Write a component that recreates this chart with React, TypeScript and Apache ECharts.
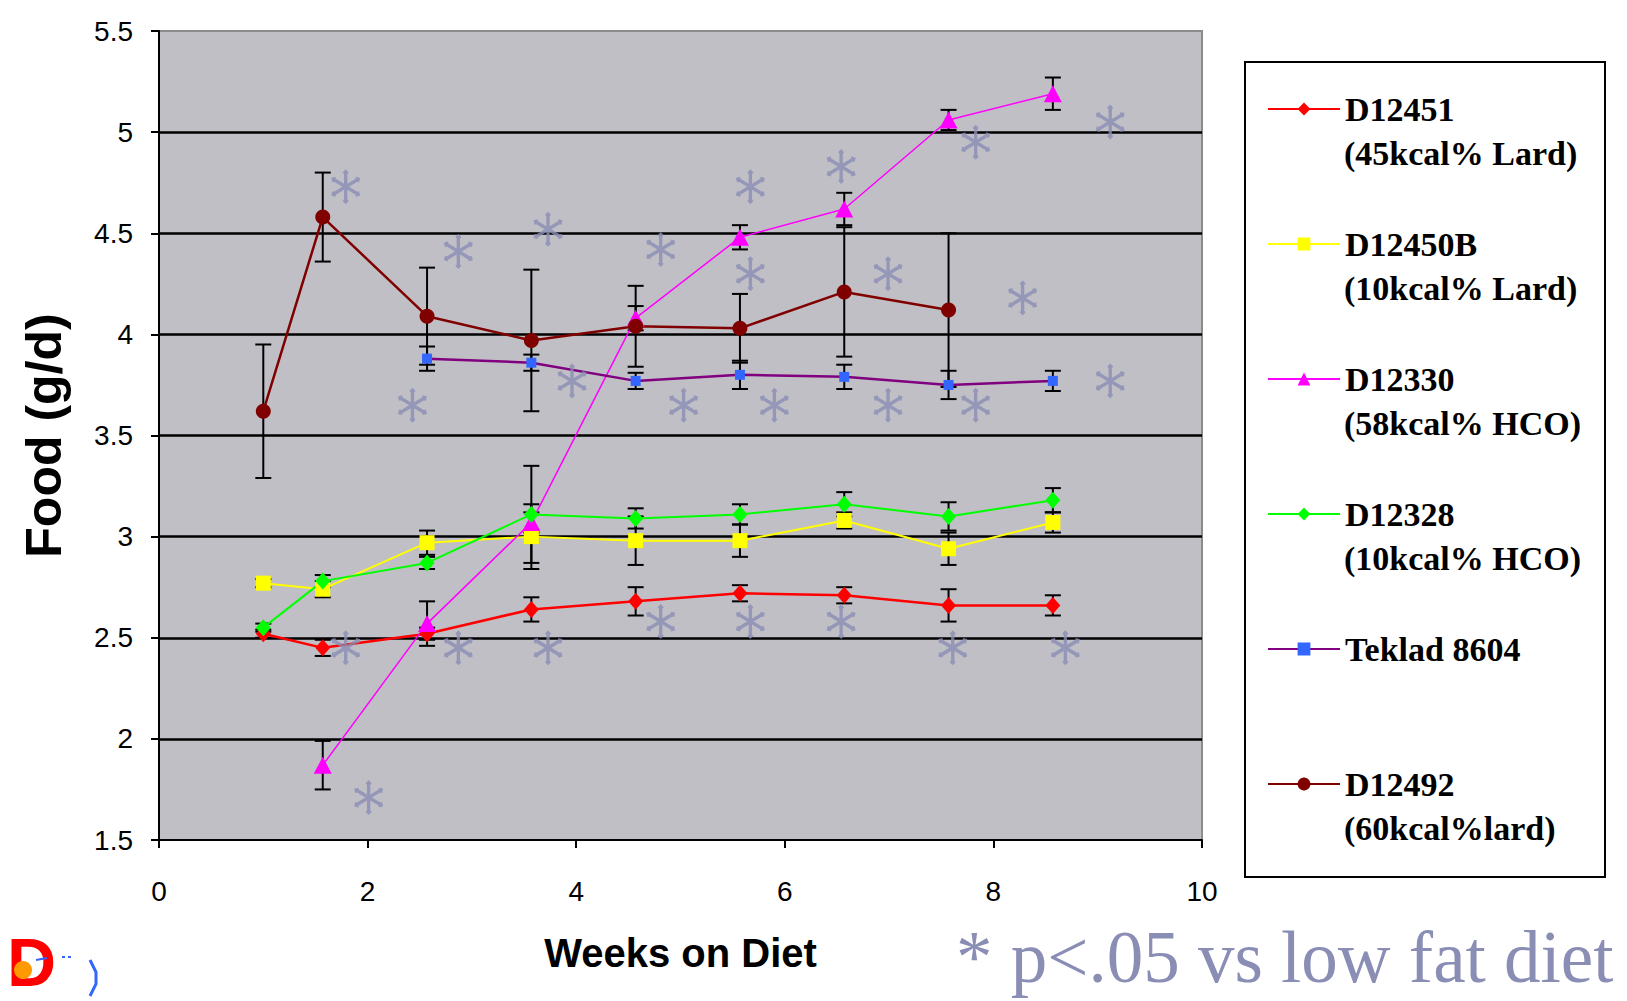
import React, { useEffect, useRef } from 'react';
import * as echarts from 'echarts';

// ---- data ----
const weeks = [1, 1.57, 2.57, 3.57, 4.57, 5.57, 6.57, 7.57, 8.57];

const d12451 = [2.52, 2.45, 2.52, 2.64, 2.68, 2.72, 2.71, 2.66, 2.66];
const d12451Err = [0.02, 0.04, 0.03, 0.06, 0.07, 0.04, 0.04, 0.08, 0.05];
const d12450B = [2.77, 2.74, 2.97, 3.0, 2.98, 2.98, 3.08, 2.94, 3.07];
const d12450BErr = [0.02, 0.04, 0.06, 0.16, 0.12, 0.08, 0.04, 0.08, 0.05];
const d12330 = [null, 1.87, 2.57, 3.07, 4.08, 4.48, 4.62, 5.06, 5.19];
const d12330Err = [null, 0.12, 0.11, 0.05, 0.06, 0.06, 0.08, 0.05, 0.08];
const d12328 = [2.55, 2.78, 2.87, 3.11, 3.09, 3.11, 3.16, 3.1, 3.18];
const d12328Err = [0.02, 0.03, 0.03, 0.24, 0.05, 0.05, 0.06, 0.07, 0.06];
const teklad = [null, null, 3.88, 3.86, 3.77, 3.8, 3.79, 3.75, 3.77];
const tekladErr = [null, null, 0.06, 0.04, 0.04, 0.07, 0.06, 0.07, 0.05];
const d12492 = [3.62, 4.58, 4.09, 3.97, 4.04, 4.03, 4.21, 4.12, null];
const d12492Err = [0.33, 0.22, 0.24, 0.35, 0.2, 0.17, 0.32, 0.38, null];

const seriesNames = ['D12451', 'D12450B', 'D12330', 'D12328', 'Teklad 8604', 'D12492'];
const seriesSubtitles = ['(45kcal% Lard)', '(10kcal% Lard)', '(58kcal% HCO)', '(10kcal% HCO)', ' ', '(60kcal%lard)'];
const seriesMeans = [d12451, d12450B, d12330, d12328, teklad, d12492];
const seriesErrs = [d12451Err, d12450BErr, d12330Err, d12328Err, tekladErr, d12492Err];

// significance asterisk positions (week, g/d)
const sigWeeks = [1.79, 2.87, 3.73, 4.81, 5.67, 6.54, 7.83, 9.12, 5.67, 6.99, 8.28, 2.43, 3.96, 5.03, 5.9, 6.99, 7.83, 9.12, 1.79, 2.87, 3.73, 4.81, 5.67, 6.54, 7.61, 8.69, 2.01];
const sigValues = [4.73, 4.41, 4.52, 4.42, 4.73, 4.83, 4.95, 5.05, 4.3, 4.3, 4.18, 3.65, 3.77, 3.65, 3.65, 3.65, 3.65, 3.77, 2.45, 2.45, 2.45, 2.58, 2.58, 2.58, 2.45, 2.45, 1.71];

const xTicks = { min: 0, max: 10, interval: 2 };
const yTicks = { min: 1.5, max: 5.5, interval: 0.5 };

// ---- styles ----
const lineColors = ['#ff0000', '#ffff00', '#ff00ff', '#00ff00', '#800080', '#800000'];
const markerColors = ['#ff0000', '#ffff00', '#ff00ff', '#00ff00', '#3366ff', '#800000'];
const symbols = ['diamond', 'rect', 'triangle', 'diamond', 'rect', 'circle'];
const symbolSizes = [[15, 17], [15, 15], [18, 17], [15, 17], [10, 10], [15, 15]];
const lineWidths = [2.5, 2, 1.5, 2, 2.5, 2.5];
const sigColor = '#8a8db4';

function asteriskPath(): string {
  const polys: number[][][] = [];
  [90, 30, 150].forEach((deg) => {
    const a = (deg * Math.PI) / 180;
    const u = [Math.cos(a), Math.sin(a)];
    const p = [-Math.sin(a), Math.cos(a)];
    const pt = (s: number, t: number) => [s * u[0] + t * p[0], s * u[1] + t * p[1]];
    polys.push([pt(-40, -5), pt(40, -5), pt(40, 5), pt(-40, 5)]);
    polys.push([pt(50, 0), pt(41, 9), pt(31, 0), pt(41, -9)]);
    polys.push([pt(-31, 0), pt(-41, 9), pt(-50, 0), pt(-41, -9)]);
  });
  return polys
    .map((poly) => 'M' + poly.map((q) => q[0].toFixed(2) + ' ' + q[1].toFixed(2)).join(' L') + ' Z')
    .join(' ');
}

export default function App() {
  const ref = useRef<HTMLDivElement>(null);

  useEffect(() => {
    document.body.style.margin = '0';
    if (!ref.current) return;
    const chart = echarts.init(ref.current, undefined, { renderer: 'svg' });

    const lineSeries = seriesNames.map((name, s) => ({
      name,
      type: 'line',
      z: 3,
      data: weeks
        .map((w, i) => [w, seriesMeans[s][i]])
        .filter((d) => d[1] !== null && d[1] !== undefined),
      symbol: symbols[s],
      symbolSize: symbolSizes[s],
      showAllSymbol: true,
      lineStyle: { color: lineColors[s], width: lineWidths[s] },
      itemStyle: { color: markerColors[s], borderWidth: 0 },
      emphasis: { disabled: true },
    }));

    const errData: number[][] = [];
    seriesNames.forEach((_, s) => {
      weeks.forEach((w, i) => {
        const m = seriesMeans[s][i];
        const e = seriesErrs[s][i];
        if (m !== null && m !== undefined && e !== null && e !== undefined) {
          errData.push([w, m - e, m + e]);
        }
      });
    });

    const errorSeries = {
      name: 'error bars',
      type: 'custom',
      z: 2,
      silent: true,
      data: errData,
      encode: { x: 0, y: [1, 2] },
      renderItem: (params: any, api: any) => {
        const x = api.value(0);
        const top = api.coord([x, api.value(2)]);
        const bot = api.coord([x, api.value(1)]);
        const cw = 8;
        const style = { stroke: '#000000', lineWidth: 2 };
        return {
          type: 'group',
          children: [
            { type: 'line', shape: { x1: top[0], y1: top[1], x2: bot[0], y2: bot[1] }, style },
            { type: 'line', shape: { x1: top[0] - cw, y1: top[1], x2: top[0] + cw, y2: top[1] }, style },
            { type: 'line', shape: { x1: bot[0] - cw, y1: bot[1], x2: bot[0] + cw, y2: bot[1] }, style },
          ],
        };
      },
    };

    const sigSeries = {
      name: 'p<.05',
      type: 'scatter',
      z: 5,
      silent: true,
      symbol: 'path://' + asteriskPath(),
      symbolSize: [29, 35],
      itemStyle: { color: sigColor },
      data: sigWeeks.map((w, i) => [w, sigValues[i]]),
    };

    const legendText = {
      fontFamily: '"Liberation Serif", "Times New Roman", serif',
      fontWeight: 'bold',
      fontSize: 34,
      lineHeight: 44,
      color: '#000000',
    };

    const option: any = {
      animation: false,
      backgroundColor: '#ffffff',
      grid: {
        left: 159,
        right: 425,
        top: 31,
        bottom: 161,
        show: true,
        backgroundColor: '#c0bfc5',
        borderColor: '#8c8c8c',
        borderWidth: 2,
        outerBoundsMode: 'none',
      },
      xAxis: {
        type: 'value',
        min: xTicks.min,
        max: xTicks.max,
        interval: xTicks.interval,
        name: 'Weeks on Diet',
        nameLocation: 'middle',
        nameGap: 93,
        nameTextStyle: {
          fontFamily: '"Liberation Sans", Arial, sans-serif',
          fontWeight: 'bold',
          fontSize: 40,
          color: '#000000',
        },
        axisLine: { show: true, onZero: false, lineStyle: { color: '#000000', width: 2 } },
        axisTick: { show: true, inside: false, length: 8, lineStyle: { color: '#000000', width: 2 } },
        axisLabel: {
          margin: 37,
          fontFamily: '"Liberation Sans", Arial, sans-serif',
          fontSize: 28,
          color: '#000000',
        },
        splitLine: { show: false },
      },
      yAxis: {
        type: 'value',
        min: yTicks.min,
        max: yTicks.max,
        interval: yTicks.interval,
        name: 'Food (g/d)',
        nameLocation: 'middle',
        nameGap: 90,
        nameTextStyle: {
          fontFamily: '"Liberation Sans", Arial, sans-serif',
          fontWeight: 'bold',
          fontSize: 50,
          color: '#000000',
        },
        axisLine: { show: true, lineStyle: { color: '#000000', width: 2 } },
        axisTick: { show: true, inside: false, length: 8, lineStyle: { color: '#000000', width: 2 } },
        axisLabel: {
          margin: 26,
          fontFamily: '"Liberation Sans", Arial, sans-serif',
          fontSize: 28,
          color: '#000000',
        },
        splitLine: {
          show: true,
          showMinLine: false,
          showMaxLine: false,
          lineStyle: { color: '#000000', width: 2.5 },
        },
      },
      legend: [
        {
          data: seriesNames,
          orient: 'vertical',
          left: 1267,
          top: 87,
          padding: 0,
          itemWidth: 72,
          itemHeight: 16,
          itemGap: 91,
          selectedMode: false,
          textStyle: legendText,
        },
        {
          data: seriesNames.map((n) => ({ name: n, icon: 'none' })),
          orient: 'vertical',
          left: 1339,
          top: 131,
          padding: 0,
          itemWidth: 0,
          itemHeight: 16,
          itemGap: 91,
          selectedMode: false,
          formatter: (n: string) => seriesSubtitles[seriesNames.indexOf(n)],
          textStyle: legendText,
        },
      ],
      graphic: [
        {
          type: 'rect',
          shape: { x: 1245, y: 62, width: 360, height: 815 },
          style: { fill: 'transparent', stroke: '#000000', lineWidth: 2 },
          silent: true,
        },
        {
          type: 'text',
          x: 956,
          y: 957,
          style: {
            text: '* p<.05 vs low fat diet',
            font: '73px "Liberation Serif", "Times New Roman", serif',
            fill: sigColor,
            align: 'left',
            verticalAlign: 'middle',
          },
          silent: true,
        },
        {
          type: 'text',
          x: 7,
          y: 962,
          style: {
            text: 'D',
            font: 'bold 68px "Liberation Sans", Arial, sans-serif',
            fill: '#ff0000',
            align: 'left',
            verticalAlign: 'middle',
          },
          silent: true,
        },
        {
          type: 'circle',
          shape: { cx: 23, cy: 970, r: 9 },
          style: { fill: '#ff9900' },
          silent: true,
        },
        {
          type: 'polyline',
          shape: { points: [[90, 960], [96, 972], [96, 984], [90, 996]] },
          style: { stroke: '#3366ff', lineWidth: 3, fill: 'none' },
          silent: true,
        },
        {
          type: 'line',
          shape: { x1: 36, y1: 960, x2: 47, y2: 958 },
          style: { stroke: '#3366ff', lineWidth: 2 },
          silent: true,
        },
        {
          type: 'line',
          shape: { x1: 62, y1: 957, x2: 74, y2: 957 },
          style: { stroke: '#3366ff', lineWidth: 2, lineDash: [3, 3] },
          silent: true,
        },
      ],
      series: [errorSeries, ...lineSeries, sigSeries],
    };

    chart.setOption(option);
    return () => {
      chart.dispose();
    };
  }, []);

  return <div ref={ref} style={{ width: 1627, height: 1001 }} />;
}
